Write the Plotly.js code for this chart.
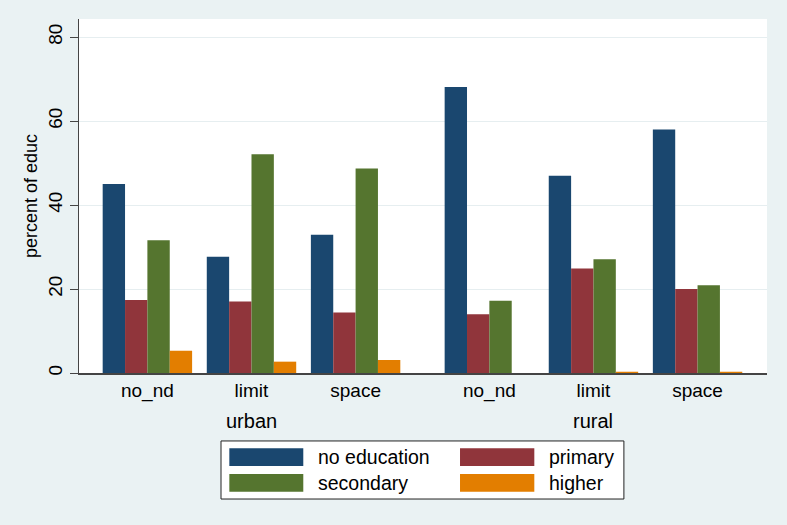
<!DOCTYPE html>
<html>
<head>
<meta charset="utf-8">
<script src="https://cdn.plot.ly/plotly-3.0.1.min.js"></script>
<style>html,body{margin:0;padding:0;background:#eaf2f3;}#chart{width:787px;height:525px;}</style>
</head>
<body>
<div id="chart"></div>
<script>
// ---- data ----
var groups = ["urban", "rural"];
var subcats = ["no_nd", "limit", "space"];
var seriesNames = ["no education", "primary", "secondary", "higher"];
var noEducation = [45.0, 27.7, 32.9, 68.1, 47.0, 58.0];
var primary     = [17.4, 17.0, 14.4, 14.0, 24.9, 20.0];
var secondary   = [31.6, 52.1, 48.7, 17.2, 27.1, 20.9];
var higher      = [5.3, 2.7, 3.1, 0.0, 0.3, 0.3];
var yTicks = [0, 20, 40, 60, 80];

// ---- styling ----
var colors = ["#1a476f", "#90353b", "#55752f", "#e37e00"];
var seriesValues = [noEducation, primary, secondary, higher];
var groupGap = 0.285;
var FONT = "Liberation Sans, Arial, sans-serif";

var xpos = [], xtext = [], groupCenters = [];
groups.forEach(function (g, gi) {
  var s = 0;
  subcats.forEach(function (c, ci) {
    var p = gi * (subcats.length + groupGap) + ci;
    xpos.push(p); xtext.push(c); s += p;
  });
  groupCenters.push(s / subcats.length);
});

var traces = seriesNames.map(function (n, i) {
  return {
    type: "bar", name: n, x: xpos, y: seriesValues[i],
    marker: {color: colors[i], line: {width: 0}},
    hoverinfo: "name+y"
  };
});

var annotations = groups.map(function (g, gi) {
  return {text: g, x: groupCenters[gi], xref: "x", y: -0.136, yref: "paper",
          showarrow: false, font: {family: FONT, size: 20, color: "#000"},
          xanchor: "center", yanchor: "middle"};
});

// custom legend (wide swatches like the original)
var shapes = [{type: "rect", xref: "paper", yref: "paper", x0: 0.2064, x1: 0.792,
               y0: -0.192, y1: -0.356, fillcolor: "#ffffff",
               line: {color: "#222", width: 1}}];
var colX = [[0.2185, 0.326, 0.3445], [0.5538, 0.6618, 0.6797]];
var rowY = [[-0.2127, -0.2627, -0.2373], [-0.2853, -0.3353, -0.3107]];
seriesNames.forEach(function (n, i) {
  var c = colX[i % 2], r = rowY[Math.floor(i / 2)];
  shapes.push({type: "rect", xref: "paper", yref: "paper", x0: c[0], x1: c[1],
               y0: r[0], y1: r[1], fillcolor: colors[i], line: {width: 0}});
  annotations.push({text: n, xref: "paper", yref: "paper", x: c[2], y: r[2],
                    showarrow: false, xanchor: "left", yanchor: "middle",
                    font: {family: FONT, size: 19.5, color: "#000"}});
});

var layout = {
  width: 787, height: 525,
  margin: {l: 79, r: 20, t: 19, b: 152, pad: 0},
  paper_bgcolor: "#eaf2f3", plot_bgcolor: "#ffffff",
  font: {family: FONT, size: 19, color: "#000"},
  showlegend: false,
  barmode: "group", bargap: 0.141, bargroupgap: 0,
  xaxis: {
    range: [-0.657, 5.952], tickvals: xpos, ticktext: xtext,
    showgrid: false, zeroline: false, ticks: "",
    showline: true, linecolor: "#444444", linewidth: 1.5,
    tickfont: {family: FONT, size: 19, color: "#000"}
  },
  yaxis: {
    range: [0, 84.3], tickvals: yTicks, ticktext: yTicks.map(String),
    tickangle: -90, showgrid: true, gridcolor: "#e6eef0", gridwidth: 1,
    zeroline: false, ticks: "outside", ticklen: 8, tickcolor: "#444444",
    showline: true, linecolor: "#444444", linewidth: 1.5,
    tickfont: {family: FONT, size: 19, color: "#000"},
    title: {text: "percent of educ", font: {family: FONT, size: 18, color: "#000"}, standoff: 2}
  },
  shapes: shapes,
  annotations: annotations
};

Plotly.newPlot("chart", traces, layout, {displayModeBar: false, staticPlot: true});
</script>
</body>
</html>
